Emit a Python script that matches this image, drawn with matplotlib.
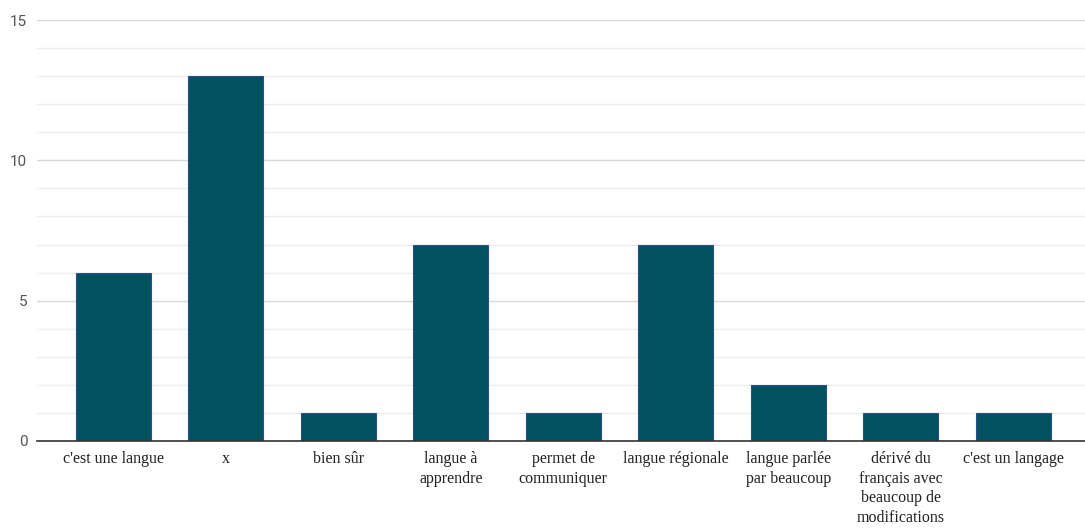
import matplotlib
matplotlib.use("Agg")
import matplotlib.pyplot as plt
from matplotlib.ticker import MultipleLocator

categories = ["c'est une langue", "x", "bien sûr", "langue à\napprendre",
              "permet de\ncommuniquer", "langue régionale", "langue parlée\npar beaucoup",
              "dérivé du\nfrançais avec\nbeaucoup de\nmodifications", "c'est un langage"]
values = [6, 13, 1, 7, 1, 7, 2, 1, 1]
yticks = [0, 5, 10, 15]

fig = plt.figure(figsize=(10.85, 5.3), dpi=100)
ax = fig.add_axes([37/1085, 89/530, 1048/1085, 421/530])

x = list(range(len(categories)))
ax.bar(x, values, width=0.667, color="#01515e", edgecolor="#2b4f8f", linewidth=0.8, zorder=3)

ax.set_xlim(-0.68, 8.64)
ax.set_ylim(0, 15)
ax.set_yticks(yticks)
ax.yaxis.set_minor_locator(MultipleLocator(1))
ax.grid(axis="y", which="major", color="#d9d9d9", linewidth=1, zorder=0)
ax.grid(axis="y", which="minor", color="#ededed", linewidth=1, zorder=0)
ax.tick_params(axis="y", which="both", length=0, pad=7, labelsize=11, labelcolor="#555555")
for lab in ax.get_yticklabels():
    lab.set_family("Roboto")

ax.set_xticks(x)
ax.set_xticklabels(categories, family="Liberation Serif", fontsize=11.5, color="#222222",
                   linespacing=1.32, va="top")
ax.tick_params(axis="x", length=0, pad=7)

for s in ["left", "right", "top"]:
    ax.spines[s].set_visible(False)
ax.spines["bottom"].set_color("#333333")
ax.spines["bottom"].set_linewidth(1.2)
ax.spines["bottom"].set_zorder(4)

fig.savefig("out.png", dpi=100, facecolor="white")
